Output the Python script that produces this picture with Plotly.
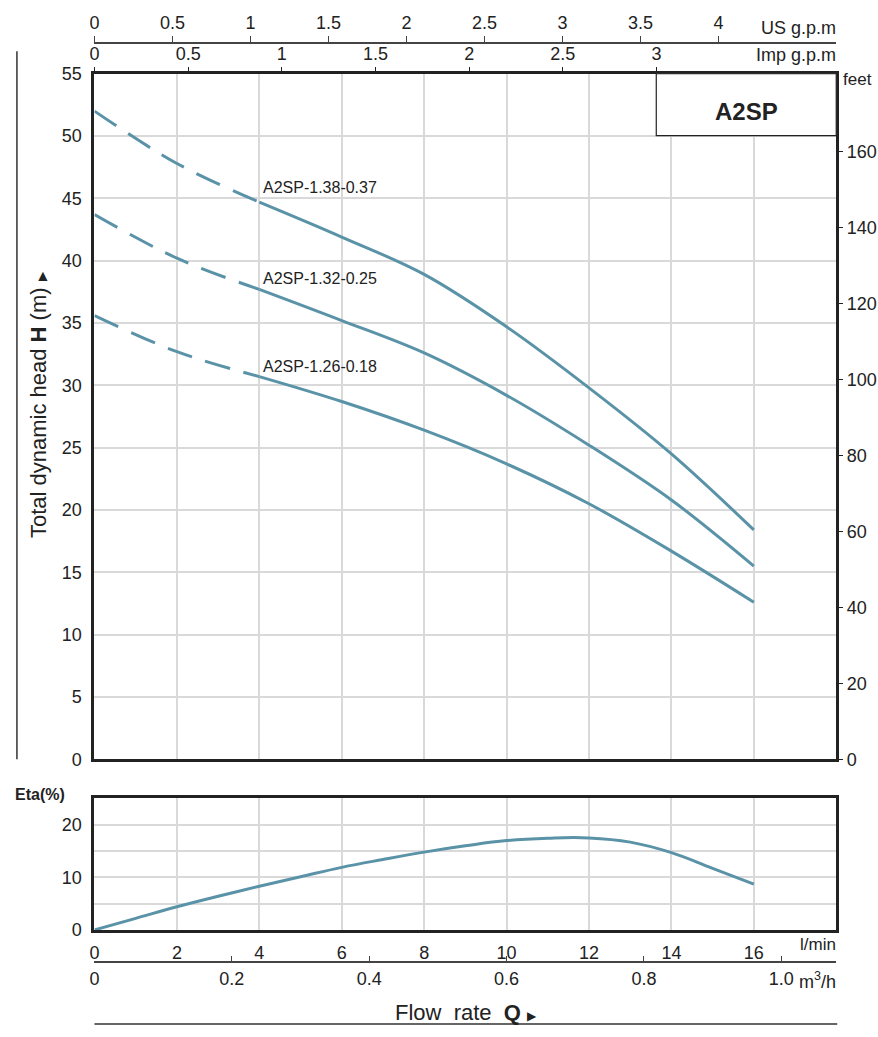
import plotly.graph_objects as go

# ---------------- data ----------------
flow_lpm = [0, 2, 4, 6, 8, 10, 12, 14, 16]
head_138 = [52.0, 47.8, 44.7, 41.9, 38.9, 34.7, 29.8, 24.5, 18.4]
head_132 = [43.7, 40.2, 37.7, 35.2, 32.6, 29.2, 25.2, 20.8, 15.5]
head_126 = [35.6, 32.7, 30.7, 28.7, 26.4, 23.7, 20.5, 16.7, 12.6]
curve_names = ["A2SP-1.38-0.37", "A2SP-1.32-0.25", "A2SP-1.26-0.18"]
label_heads = [45.9, 38.6, 31.55]

eta_flow = [0, 1, 2, 3, 4, 5, 6, 7, 8, 9, 10, 11, 12, 13, 14, 15, 16]
eta_pct = [0, 2.2, 4.4, 6.4, 8.3, 10.1, 11.9, 13.4, 14.8, 16.0, 17.0, 17.45, 17.5, 16.7, 14.7, 11.7, 8.7]

dash_end_index = 2  # flows 0..4 drawn dashed

lpm_ticks = [0, 2, 4, 6, 8, 10, 12, 14, 16]
us_gpm_ticks = [0, 0.5, 1, 1.5, 2, 2.5, 3, 3.5, 4]
imp_gpm_ticks = [0, 0.5, 1, 1.5, 2, 2.5, 3]
m3h_ticks = [0, 0.2, 0.4, 0.6, 0.8, 1.0]
m3h_text = ["0", "0.2", "0.4", "0.6", "0.8", "1.0"]
feet_ticks = [0, 20, 40, 60, 80, 100, 120, 140, 160]
eta_ticks = [0, 10, 20]

X_MAX = 18.0
H_MAX = 55.0
ETA_MAX = 25.0

# ---------------- helpers ----------------
W, H = 878, 1037
def px(x):
    return x / W
def py(y):
    return 1 - y / H

FONT = "Liberation Sans, Arial, sans-serif"
TXT = "#222222"
LINE = "#5a93a7"
GRID = "#d9d9d9"
FRAME = "#222222"

xdom = [px(90), px(836)]
ydom_main = [py(764), py(65)]
ydom_eta = [py(938), py(804)]

fig = go.Figure()

heads = [head_138, head_132, head_126]
for name, h in zip(curve_names, heads):
    fig.add_trace(go.Scatter(
        x=flow_lpm[:dash_end_index + 1], y=h[:dash_end_index + 1],
        mode="lines", line=dict(color=LINE, width=3, dash="26px,14px", shape="spline"),
        xaxis="x", yaxis="y", showlegend=False, hoverinfo="skip"))
    fig.add_trace(go.Scatter(
        x=flow_lpm[dash_end_index:], y=h[dash_end_index:],
        mode="lines", line=dict(color=LINE, width=3, shape="spline"),
        xaxis="x", yaxis="y", showlegend=False, name=name))

fig.add_trace(go.Scatter(
    x=eta_flow, y=eta_pct, mode="lines",
    line=dict(color=LINE, width=3, shape="spline", smoothing=1.2),
    xaxis="x4", yaxis="y3", showlegend=False))

# empty traces so that secondary axes are rendered
for xa, ya in [("x2", "y"), ("x3", "y"), ("x", "y2"), ("x5", "y3")]:
    fig.add_trace(go.Scatter(x=[None], y=[None], xaxis=xa, yaxis=ya,
                             showlegend=False, hoverinfo="skip"))

tickfont = dict(family=FONT, size=18, color=TXT)

fig.update_layout(
    width=W, height=H,
    margin=dict(l=0, r=0, t=0, b=0, pad=0),
    paper_bgcolor="white", plot_bgcolor="white",
    font=dict(family=FONT, color=TXT),
    xaxis=dict(domain=xdom, anchor="y", range=[0, X_MAX],
               tickvals=lpm_ticks, showticklabels=False, ticks="",
               showgrid=True, gridcolor=GRID, gridwidth=1.5,
               showline=True, linecolor=FRAME, linewidth=3, mirror=True,
               zeroline=False),
    yaxis=dict(domain=ydom_main, anchor="x", range=[0, H_MAX], dtick=5,
               showgrid=True, gridcolor=GRID, gridwidth=1.5,
               showline=True, linecolor=FRAME, linewidth=3, mirror=True,
               zeroline=False, ticks="", tickfont=tickfont, ticklabelstandoff=6),
    yaxis2=dict(overlaying="y", anchor="x", side="right",
                range=[0, H_MAX / 0.3048], tickvals=feet_ticks,
                showgrid=False, zeroline=False, showline=False,
                ticks="outside", ticklen=6, tickwidth=1.2, tickcolor=FRAME,
                tickfont=tickfont),
    xaxis2=dict(overlaying="x", anchor="y", side="top",
                range=[0, X_MAX / 4.54609], tickvals=imp_gpm_ticks,
                showgrid=False, zeroline=False, showline=False,
                ticks="outside", ticklen=6, tickwidth=1.2, tickcolor=FRAME,
                tickfont=tickfont),
    xaxis3=dict(overlaying="x", anchor="free", position=py(33.7), side="top",
                range=[0, X_MAX / 3.78541], tickvals=us_gpm_ticks,
                showgrid=False, zeroline=False,
                showline=True, linecolor="#444444", linewidth=1.5,
                ticks="outside", ticklen=6, tickwidth=1.2, tickcolor="#444444",
                tickfont=tickfont),
    xaxis4=dict(domain=xdom, anchor="y3", range=[0, X_MAX],
                tickvals=lpm_ticks,
                showgrid=True, gridcolor=GRID, gridwidth=1.5,
                showline=True, linecolor=FRAME, linewidth=3, mirror=True,
                zeroline=False, ticks="", tickfont=tickfont, ticklabelstandoff=4),
    yaxis3=dict(domain=ydom_eta, anchor="x4", range=[0, ETA_MAX],
                tickvals=eta_ticks,
                minor=dict(dtick=5, tick0=0, showgrid=True, gridcolor=GRID, gridwidth=1.5, ticks=""),
                showgrid=True, gridcolor=GRID, gridwidth=1.5,
                showline=True, linecolor=FRAME, linewidth=3, mirror=True,
                zeroline=False, ticks="", tickfont=tickfont, ticklabelstandoff=6),
    xaxis5=dict(overlaying="x4", anchor="free", position=py(971), side="bottom",
                range=[0, X_MAX * 0.06], tickvals=m3h_ticks, ticktext=m3h_text,
                showgrid=False, zeroline=False,
                showline=True, linecolor="#444444", linewidth=1.5,
                ticks="inside", ticklen=6, tickwidth=1.2, tickcolor="#444444",
                tickfont=tickfont),
)

ann = []
def A(text, x, y, xanchor="center", yanchor="middle", size=18, angle=0, xref="paper", yref="paper"):
    ann.append(dict(text=text, x=x, y=y, xref=xref, yref=yref, xanchor=xanchor,
                    yanchor=yanchor, showarrow=False, textangle=angle,
                    font=dict(family=FONT, size=size, color=TXT)))

A("US g.p.m", px(838), py(18), xanchor="right", size=18)
A("Imp g.p.m", px(838), py(46), xanchor="right", size=18)
A("feet", px(841), py(71), xanchor="left", size=17)
A("l/min", px(838), py(953), xanchor="right", size=17)
A("m<sup>3</sup>/h", px(838), py(990), xanchor="right", size=18)
A("<b>Eta(%)</b>", px(8), py(800), xanchor="left", size=16)
A("<b>A2SP</b>", px(746), py(104), size=24)
A("Total dynamic head <b>H</b> (m) <span style='font-size:12px'>▶</span>", px(33), py(402), size=22, angle=-90)
A("Flow  rate  <b>Q</b> <span style='font-size:12px'>▶</span>", px(464), py(1022), size=22)
for name, yv in zip(curve_names, label_heads):
    A(name, 4.05, yv, xanchor="left", size=16, xref="x", yref="y")
fig.update_layout(annotations=ann)

shapes = [
    dict(type="line", xref="paper", yref="paper", x0=px(12), x1=px(12), y0=py(42), y1=py(764),
         line=dict(color="#333333", width=1.5)),
    dict(type="line", xref="paper", yref="paper", x0=px(90), x1=px(837), y0=py(1034), y1=py(1034),
         line=dict(color="#333333", width=1.5)),
    dict(type="rect", xref="paper", yref="paper", x0=px(655), x1=px(836), y0=py(128), y1=py(65),
         line=dict(color=FRAME, width=1.2), fillcolor="white", layer="above"),
]
fig.update_layout(shapes=shapes)

fig.write_html(
    "out.html",
    config={"displayModeBar": False},
    post_script="document.body.style.margin='0';document.documentElement.style.overflow='hidden';",
)
